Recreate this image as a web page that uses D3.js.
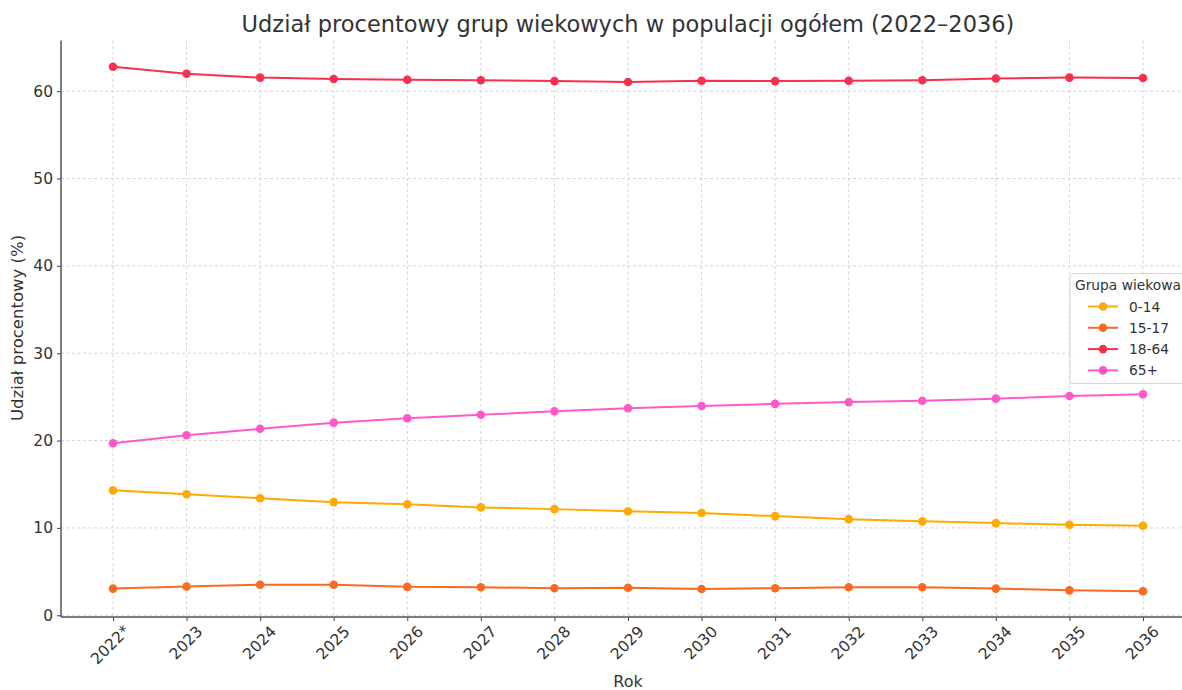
<!DOCTYPE html>
<html>
<head>
<meta charset="utf-8">
<script src="https://cdn.jsdelivr.net/npm/d3@7"></script>
<style>
  html, body { margin: 0; padding: 0; background: #fff; }
  svg { display: block; font-family: "DejaVu Sans", sans-serif; }
</style>
</head>
<body>
<div id="chart"></div>
<script>
const W = 1182, H = 690;

const years = ['2022*', '2023', '2024', '2025', '2026', '2027', '2028', '2029',
               '2030', '2031', '2032', '2033', '2034', '2035', '2036'];
const groups = ['0-14', '15-17', '18-64', '65+'];
const colors = ['#FFAA00', '#F86B22', '#F7304F', '#FF59C8'];

const v0_14  = [14.3, 13.85, 13.4, 12.95, 12.7, 12.35, 12.15, 11.9, 11.7, 11.35, 11.0, 10.75, 10.55, 10.35, 10.25];
const v15_17 = [3.05, 3.3, 3.5, 3.5, 3.25, 3.2, 3.1, 3.15, 3.0, 3.1, 3.2, 3.2, 3.05, 2.85, 2.75];
const v18_64 = [62.8, 62.0, 61.55, 61.4, 61.3, 61.25, 61.15, 61.05, 61.2, 61.15, 61.2, 61.25, 61.45, 61.55, 61.5];
const v65    = [19.7, 20.6, 21.35, 22.05, 22.55, 22.95, 23.35, 23.7, 23.95, 24.2, 24.4, 24.55, 24.8, 25.1, 25.3];
const series = [v0_14, v15_17, v18_64, v65];

const yTicks = [0, 10, 20, 30, 40, 50, 60];

const PL = 61, PR = 1194.5, PT = 40.5, PB = 617;

const x = d3.scalePoint().domain(years).range([113, 1143]);
const y = d3.scaleLinear().domain([-0.2, 65.8]).range([PB, PT]);

const svg = d3.select('#chart').append('svg')
  .attr('width', W).attr('height', H);

// grid
const grid = svg.append('g')
  .attr('stroke', '#cccccc')
  .attr('stroke-width', 0.8)
  .attr('stroke-dasharray', '3,2.5');
years.forEach(yr => {
  grid.append('line').attr('x1', x(yr)).attr('x2', x(yr)).attr('y1', PT).attr('y2', PB);
});
yTicks.forEach(t => {
  grid.append('line').attr('x1', PL).attr('x2', PR).attr('y1', y(t)).attr('y2', y(t));
});

// axes
const xAxis = svg.append('g')
  .attr('transform', `translate(0,${PB})`)
  .call(d3.axisBottom(x).tickSize(4).tickSizeOuter(0));
xAxis.attr('font-family', null).attr('font-size', null);
xAxis.select('.domain').remove();
xAxis.selectAll('line').attr('stroke', '#444');
xAxis.selectAll('text')
  .style('font-size', '15.5px')
  .attr('fill', '#333')
  .attr('text-anchor', 'middle')
  .attr('dominant-baseline', 'central')
  .attr('y', 0).attr('dy', 0)
  .attr('transform', d => `translate(${d === '2022*' ? -3 : -1},${d === '2022*' ? 28 : 26}) rotate(-45)`);

const yAxis = svg.append('g')
  .attr('transform', `translate(${PL},0)`)
  .call(d3.axisLeft(y).tickValues(yTicks).tickSize(4).tickSizeOuter(0));
yAxis.attr('font-family', null).attr('font-size', null);
yAxis.select('.domain').remove();
yAxis.selectAll('line').attr('stroke', '#444');
yAxis.selectAll('text')
  .style('font-size', '15.5px')
  .attr('fill', '#333')
  .attr('x', -8);

svg.append('line')
  .attr('x1', PL).attr('x2', PL).attr('y1', PT).attr('y2', PB)
  .attr('stroke', '#555').attr('stroke-width', 1.5);
svg.append('line')
  .attr('x1', PL).attr('x2', PR).attr('y1', PB).attr('y2', PB)
  .attr('stroke', '#555').attr('stroke-width', 1.5);

// lines
const line = d3.line().x((d, i) => x(years[i])).y(d => y(d));
series.forEach((vals, k) => {
  svg.append('path')
    .datum(vals)
    .attr('d', line)
    .attr('fill', 'none')
    .attr('stroke', colors[k])
    .attr('stroke-width', 2);
  svg.append('g').selectAll('circle')
    .data(vals)
    .join('circle')
    .attr('cx', (d, i) => x(years[i]))
    .attr('cy', d => y(d))
    .attr('r', 4.3)
    .attr('fill', colors[k]);
});

// title & labels
svg.append('text')
  .attr('x', 628).attr('y', 32)
  .attr('text-anchor', 'middle')
  .style('font-size', '22.5px')
  .attr('fill', '#333')
  .text('Udział procentowy grup wiekowych w populacji ogółem (2022–2036)');

svg.append('text')
  .attr('x', 628).attr('y', 687)
  .attr('text-anchor', 'middle')
  .style('font-size', '16px')
  .attr('fill', '#333')
  .text('Rok');

svg.append('text')
  .attr('transform', 'translate(23,328) rotate(-90)')
  .attr('text-anchor', 'middle')
  .style('font-size', '16.5px')
  .attr('fill', '#333')
  .text('Udział procentowy (%)');

// legend
const lg = svg.append('g');
lg.append('rect')
  .attr('x', 1070).attr('y', 273.5)
  .attr('width', 130).attr('height', 110)
  .attr('rx', 3)
  .attr('fill', 'rgba(255,255,255,0.85)')
  .attr('stroke', '#d6d6d6');
lg.append('text')
  .attr('x', 1075).attr('y', 290)
  .style('font-size', '13.8px')
  .attr('fill', '#333')
  .text('Grupa wiekowa');
groups.forEach((g, k) => {
  const ly = 306.5 + k * 21.3;
  lg.append('line')
    .attr('x1', 1088).attr('x2', 1118).attr('y1', ly).attr('y2', ly)
    .attr('stroke', colors[k]).attr('stroke-width', 2);
  lg.append('circle')
    .attr('cx', 1103).attr('cy', ly).attr('r', 4.3)
    .attr('fill', colors[k]);
  lg.append('text')
    .attr('x', 1129).attr('y', ly)
    .attr('dominant-baseline', 'central')
    .style('font-size', '13.8px')
    .attr('fill', '#333')
    .text(g);
});
</script>
</body>
</html>
